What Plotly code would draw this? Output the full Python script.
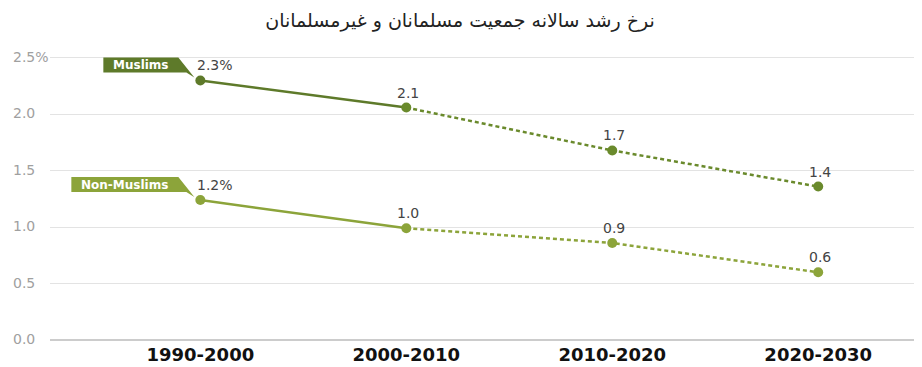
import plotly.graph_objects as go

categories = ["1990-2000", "2000-2010", "2010-2020", "2020-2030"]
muslims = [2.30, 2.06, 1.68, 1.36]
non_muslims = [1.24, 0.99, 0.86, 0.60]
muslims_labels = ["2.3%", "2.1", "1.7", "1.4"]
non_muslims_labels = ["1.2%", "1.0", "0.9", "0.6"]
ytick_vals = [0, 0.5, 1.0, 1.5, 2.0, 2.5]
ytick_text = ["0.0", "0.5", "1.0", "1.5", "2.0", "2.5%"]
title_text = "نرخ رشد سالانه جمعیت مسلمانان و غیرمسلمانان"

c_mus = "#5e7a2a"
c_mus_pt = "#6a8a2c"
c_non = "#8ca43a"
label_color = "#444444"

fig = go.Figure()

def add_series(vals, labels, line_col, pt_col):
    fig.add_trace(go.Scatter(
        x=categories[:2], y=vals[:2], mode="lines",
        line=dict(color=line_col, width=2.5), hoverinfo="skip", showlegend=False))
    fig.add_trace(go.Scatter(
        x=categories[1:], y=vals[1:], mode="lines",
        line=dict(color=pt_col, width=2.5, dash="4px,3px"), hoverinfo="skip", showlegend=False))
    fig.add_trace(go.Scatter(
        x=categories, y=vals, mode="markers",
        marker=dict(color=[line_col, pt_col, pt_col, pt_col], size=10),
        showlegend=False))
    for i, (c, v, t) in enumerate(zip(categories, vals, labels)):
        fig.add_annotation(x=c, y=v, xref="x", yref="y", text=t, showarrow=False,
                           xanchor="left" if i == 0 else "center", yanchor="middle",
                           xshift=-5 if i == 0 else 2, yshift=15,
                           font=dict(family="DejaVu Sans", size=14, color=label_color))

add_series(muslims, muslims_labels, c_mus, c_mus_pt)
add_series(non_muslims, non_muslims_labels, c_non, c_non)

def add_tag(val, name, color, width):
    path = f"M {-18 - width},23 L -22,23 L -6,3 L -14,8 L {-18 - width},8 Z"
    fig.add_shape(type="path", xref="x", yref="y",
                  xsizemode="pixel", ysizemode="pixel",
                  xanchor=categories[0], yanchor=val,
                  path=path, fillcolor=color, line=dict(width=0), layer="above")
    fig.add_annotation(x=categories[0], y=val, xref="x", yref="y",
                       text=f"<b>{name}</b>", showarrow=False,
                       xanchor="center", yanchor="middle",
                       xshift=-18 - width / 2 - 2, yshift=15.5,
                       font=dict(family="DejaVu Sans", size=12, color="white"))

add_tag(muslims[0], "Muslims", c_mus, 79)
add_tag(non_muslims[0], "Non-Muslims", c_non, 111)

for v, t in zip(ytick_vals, ytick_text):
    fig.add_annotation(x=0, y=v, xref="paper", yref="y", text=t, showarrow=False,
                       xanchor="left", yanchor="middle", xshift=-39, yshift=1,
                       font=dict(family="DejaVu Sans", size=14, color="#a0a0a0"))

# page body has an 8px margin, so the figure is sized/offset to compensate
fig.update_layout(
    width=914, height=359,
    margin=dict(l=42, r=7, t=42, b=27),
    paper_bgcolor="white", plot_bgcolor="white",
    title=dict(text=title_text, x=0.4945, xref="container", xanchor="center",
               y=0.966, yref="container", yanchor="middle",
               font=dict(family="DejaVu Sans", size=19, color="#222222")),
    xaxis=dict(type="category", range=[-0.73, 3.47], showgrid=False, automargin=False,
               showline=False, zeroline=False, ticks="", ticklabelstandoff=2,
               tickfont=dict(family="DejaVu Sans", size=18, color="#111111", weight="bold")),
    yaxis=dict(range=[0, 2.57], tickvals=ytick_vals, showticklabels=False, automargin=False,
               showgrid=True, gridcolor="#e3e3e3", gridwidth=1,
               zeroline=True, zerolinecolor="#cccccc", zerolinewidth=2,
               showline=False, ticks=""),
)

fig.write_html("out.html")
